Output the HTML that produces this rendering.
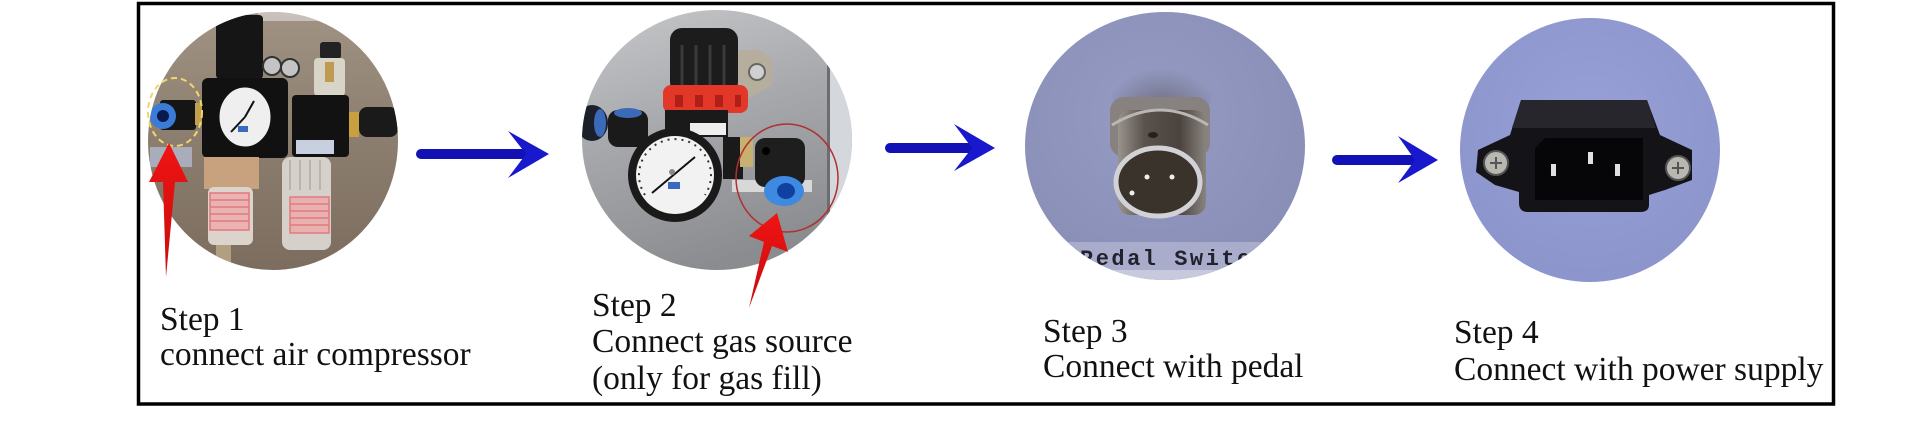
<!DOCTYPE html>
<html>
<head>
<meta charset="utf-8">
<style>
html,body{margin:0;padding:0;background:#fff;}
body{width:1920px;height:438px;overflow:hidden;}
svg{display:block;}
.t{font-family:"Liberation Serif","Times New Roman",serif;font-size:33.5px;fill:#111;}
</style>
</head>
<body>
<svg width="1920" height="438" viewBox="0 0 1920 438" xmlns="http://www.w3.org/2000/svg">
<defs>
  <clipPath id="c1"><ellipse cx="273" cy="141" rx="125" ry="129"/></clipPath>
  <clipPath id="c2"><ellipse cx="717" cy="140" rx="135" ry="130"/></clipPath>
  <clipPath id="c3"><ellipse cx="1165" cy="146" rx="140" ry="134"/></clipPath>
  <clipPath id="c4"><ellipse cx="1590" cy="150" rx="130" ry="132"/></clipPath>
  <linearGradient id="g1" x1="0" y1="0" x2="0" y2="1">
    <stop offset="0" stop-color="#a29585"/>
    <stop offset="0.5" stop-color="#8c7e6f"/>
    <stop offset="1" stop-color="#7a6b5d"/>
  </linearGradient>
  <linearGradient id="g2" x1="0" y1="0" x2="0.3" y2="1">
    <stop offset="0" stop-color="#cacacc"/>
    <stop offset="0.5" stop-color="#a6a8ac"/>
    <stop offset="1" stop-color="#8a8c90"/>
  </linearGradient>
  <radialGradient id="g3" cx="0.45" cy="0.4" r="0.7">
    <stop offset="0" stop-color="#959bc2"/>
    <stop offset="1" stop-color="#868cb4"/>
  </radialGradient>
  <radialGradient id="g4" cx="0.5" cy="0.4" r="0.7">
    <stop offset="0" stop-color="#98a1d7"/>
    <stop offset="1" stop-color="#8a93c9"/>
  </radialGradient>
  <linearGradient id="cyl" x1="0" y1="0" x2="1" y2="0">
    <stop offset="0" stop-color="#9a948e"/>
    <stop offset="0.3" stop-color="#5a524c"/>
    <stop offset="0.7" stop-color="#4a433e"/>
    <stop offset="1" stop-color="#8a8480"/>
  </linearGradient>
  <radialGradient id="shad" cx="0.5" cy="0.85" r="0.6">
    <stop offset="0" stop-color="#5e5a66" stop-opacity="1"/>
    <stop offset="1" stop-color="#6a6878" stop-opacity="0"/>
  </radialGradient>
  <linearGradient id="red" x1="0" y1="0" x2="0" y2="1">
    <stop offset="0" stop-color="#f01414"/>
    <stop offset="1" stop-color="#c80c0c"/>
  </linearGradient>
</defs>

<!-- frame -->
<rect x="138.5" y="3.5" width="1695" height="400.5" fill="none" stroke="#000" stroke-width="3.5"/>

<!-- ===== Photo 1 ===== -->
<g clip-path="url(#c1)">
  <rect x="140" y="0" width="270" height="280" fill="url(#g1)"/>
  <rect x="258" y="12" width="70" height="9" fill="#d8d6d2" opacity="0.7"/>
  <rect x="150" y="147" width="42" height="20" fill="#a9adbb"/>
  <rect x="160" y="100" width="36" height="30" rx="3" fill="#151515"/>
  <rect x="195" y="103" width="7" height="22" fill="#c0a050"/>
  <circle cx="163" cy="116" r="13" fill="#3b7bd8"/>
  <circle cx="163" cy="116" r="6" fill="#0a1a50"/>
  <rect x="216" y="15" width="47" height="64" rx="4" fill="#151515"/>
  <circle cx="272" cy="66" r="9" fill="#c4c4c4" stroke="#333" stroke-width="2"/>
  <circle cx="290" cy="68" r="9" fill="#c4c4c4" stroke="#333" stroke-width="2"/>
  <rect x="202" y="78" width="86" height="80" rx="6" fill="#111"/>
  <ellipse cx="245" cy="117" rx="27" ry="31" fill="#efefef" stroke="#111" stroke-width="3"/>
  <line x1="245" y1="117" x2="231" y2="132" stroke="#111" stroke-width="2"/>
  <line x1="245" y1="117" x2="254" y2="101" stroke="#111" stroke-width="2"/>
  <rect x="238" y="126" width="10" height="6" fill="#3a6ac0"/>
  <rect x="320" y="42" width="21" height="17" rx="3" fill="#222"/>
  <rect x="314" y="58" width="31" height="38" rx="4" fill="#d8d4c8"/>
  <rect x="325" y="62" width="9" height="20" fill="#c09a50"/>
  <rect x="292" y="95" width="57" height="62" rx="4" fill="#121212"/>
  <rect x="296" y="140" width="38" height="14" fill="#c8d0e0"/>
  <rect x="349" y="112" width="10" height="25" fill="#c9a040"/>
  <rect x="359" y="107" width="39" height="30" rx="8" fill="#1a1a1a"/>
  <rect x="204" y="157" width="55" height="32" fill="#c8a27e"/>
  <rect x="208" y="187" width="45" height="58" rx="6" fill="#dcd3cc"/>
  <g fill="none" stroke="#e07a7a" stroke-width="1.5">
    <rect x="210" y="193" width="39" height="37" fill="#eab2b2"/>
    <line x1="210" y1="200" x2="249" y2="200"/><line x1="210" y1="207" x2="249" y2="207"/>
    <line x1="210" y1="214" x2="249" y2="214"/><line x1="210" y1="221" x2="249" y2="221"/>
  </g>
  <rect x="216" y="245" width="15" height="24" fill="#b0a080"/>
  <rect x="282" y="157" width="49" height="93" rx="8" fill="#d6d0cb"/>
  <g stroke="#bbb3ad" stroke-width="2">
    <line x1="290" y1="160" x2="290" y2="190"/><line x1="300" y1="160" x2="300" y2="190"/>
    <line x1="310" y1="160" x2="310" y2="190"/><line x1="320" y1="160" x2="320" y2="190"/>
  </g>
  <g fill="none" stroke="#e07a7a" stroke-width="1.5">
    <rect x="290" y="197" width="39" height="36" fill="#e8b0b0"/>
    <line x1="290" y1="204" x2="329" y2="204"/><line x1="290" y1="211" x2="329" y2="211"/>
    <line x1="290" y1="218" x2="329" y2="218"/><line x1="290" y1="225" x2="329" y2="225"/>
  </g>
</g>
<ellipse cx="175" cy="112" rx="27" ry="34" fill="none" stroke="#f2d66a" stroke-width="2" stroke-dasharray="6 4"/>
<polygon points="169,143 188,182 175,182 166,277 163,182 149,182" fill="url(#red)"/>

<!-- arrow 1 -->
<line x1="421" y1="154" x2="526" y2="154" stroke="#1111b6" stroke-width="10" stroke-linecap="round"/>
<polygon points="549,154 508,131 526,154 508,178" fill="#1818cc"/>

<!-- ===== Photo 2 ===== -->
<g clip-path="url(#c2)">
  <rect x="580" y="0" width="280" height="280" fill="url(#g2)"/>
  <rect x="830" y="0" width="30" height="280" fill="#d4d8dc"/>
  <rect x="827" y="0" width="3" height="280" fill="#6a6e72"/>
  <ellipse cx="592" cy="123" rx="16" ry="18" fill="#1a1f2a"/>
  <ellipse cx="600" cy="123" rx="6" ry="14" fill="#3a6ab8"/>
  <rect x="608" y="110" width="40" height="37" rx="10" fill="#1a1a1a"/>
  <ellipse cx="628" cy="113" rx="14" ry="5" fill="#3a6ab8"/>
  <polygon points="673,50 760,50 772,60 772,85 745,100 673,100" fill="#b6ae9c"/>
  <circle cx="757" cy="72" r="8" fill="#d0d0d0" stroke="#666" stroke-width="2"/>
  <rect x="670" y="28" width="68" height="66" rx="12" fill="#1c1c1c"/>
  <g stroke="#3a3a3a" stroke-width="3">
    <line x1="682" y1="45" x2="682" y2="88"/><line x1="696" y1="45" x2="696" y2="88"/>
    <line x1="710" y1="45" x2="710" y2="88"/><line x1="724" y1="45" x2="724" y2="88"/>
  </g>
  <rect x="663" y="85" width="85" height="28" rx="8" fill="#e3372a"/>
  <g fill="#b01e18"><rect x="675" y="95" width="8" height="12"/><rect x="695" y="95" width="8" height="12"/><rect x="715" y="95" width="8" height="12"/><rect x="735" y="95" width="6" height="12"/></g>
  <rect x="665" y="110" width="63" height="27" fill="#1a1a1a"/>
  <rect x="690" y="123" width="36" height="12" fill="#eee"/>
  <rect x="723" y="137" width="20" height="42" fill="#1a1a1a"/>
  <rect x="740" y="137" width="13" height="30" fill="#c8b070"/>
  <rect x="732" y="180" width="80" height="12" fill="#d8d8d8"/>
  <rect x="755" y="138" width="50" height="49" rx="10" fill="#1e1e1e"/>
  <circle cx="766" cy="151" r="4" fill="#000"/>
  <ellipse cx="784" cy="191" rx="20" ry="15" fill="#3d8ae0"/>
  <ellipse cx="786" cy="191" rx="9" ry="8" fill="#1040a0"/>
  <circle cx="675" cy="175" r="47" fill="#1a1a1a"/>
  <circle cx="675" cy="175" r="39" fill="#f2f2f2"/>
  <path d="M645,195 A36,36 0 1 1 705,195" fill="none" stroke="#333" stroke-width="2" stroke-dasharray="2 5"/>
  <line x1="652" y1="193" x2="695" y2="157" stroke="#111" stroke-width="2"/>
  <circle cx="672" cy="172" r="3" fill="#888"/>
  <rect x="668" y="182" width="12" height="7" fill="#3a6ac0"/>
</g>
<ellipse cx="787" cy="178" rx="51" ry="54" fill="none" stroke="#b03030" stroke-width="1.5"/>
<polygon points="777,213 788,252 772,246 749,308 764,242 749,236" fill="url(#red)"/>

<!-- arrow 2 -->
<line x1="890" y1="148" x2="970" y2="148" stroke="#1111b6" stroke-width="10" stroke-linecap="round"/>
<polygon points="995,148 954,124 972,148 954,171" fill="#1818cc"/>

<!-- ===== Photo 3 ===== -->
<g clip-path="url(#c3)">
  <rect x="1020" y="0" width="290" height="290" fill="url(#g3)"/>
  <rect x="1020" y="242" width="290" height="30" fill="#a9adcb"/>
  <rect x="1020" y="270" width="290" height="20" fill="#c7cadd"/>
  <ellipse cx="1162" cy="90" rx="50" ry="45" fill="url(#shad)"/>
  <rect x="1110" y="97" width="100" height="60" rx="14" fill="#87817f"/>
  <rect x="1118" y="110" width="88" height="105" rx="12" fill="url(#cyl)"/>
  <path d="M1112,125 Q1160,95 1208,125" fill="none" stroke="#bab6b2" stroke-width="3"/>
  <ellipse cx="1153" cy="135" rx="5" ry="3" fill="#222"/>
  <ellipse cx="1158" cy="182" rx="42" ry="34" fill="#3a332c" stroke="#d2d2d6" stroke-width="5"/>
  <circle cx="1147" cy="177" r="2.5" fill="#eee"/>
  <circle cx="1172" cy="177" r="2.5" fill="#eee"/>
  <circle cx="1132" cy="193" r="2.5" fill="#eee"/>
  <text x="1080" y="265" font-family="Liberation Mono, monospace" font-weight="bold" font-size="22" letter-spacing="2.5" fill="#22222e">Pedal Switch</text>
</g>

<!-- arrow 3 -->
<line x1="1337" y1="160" x2="1414" y2="160" stroke="#1111b6" stroke-width="10" stroke-linecap="round"/>
<polygon points="1438,160 1398,136 1415,160 1398,183" fill="#1818cc"/>

<!-- ===== Photo 4 ===== -->
<g clip-path="url(#c4)">
  <rect x="1455" y="15" width="270" height="272" fill="url(#g4)"/>
  <path d="M1521,100 L1647,100 L1660,135 L1692,150 L1692,180 L1665,190 L1649,195 L1649,205 Q1649,212 1640,212 L1528,212 Q1519,212 1519,203 L1519,192 L1495,185 L1476,172 L1478,150 L1510,135 Z" fill="#141418"/>
  <path d="M1521,100 L1647,100 L1656,128 L1512,128 Z" fill="#26262c"/>
  <path d="M1545,138 L1643,138 L1643,200 L1535,200 L1535,148 Z" fill="#060608"/>
  <rect x="1551" y="164" width="5" height="12" fill="#e0e0e0"/>
  <rect x="1588" y="152" width="5" height="12" fill="#e0e0e0"/>
  <rect x="1615" y="164" width="5" height="12" fill="#e0e0e0"/>
  <circle cx="1496" cy="163" r="12" fill="#b8b8b0" stroke="#555" stroke-width="2"/>
  <circle cx="1678" cy="168" r="12" fill="#b8b8b0" stroke="#555" stroke-width="2"/>
  <g stroke="#555" stroke-width="2">
    <line x1="1490" y1="163" x2="1502" y2="163"/><line x1="1496" y1="157" x2="1496" y2="169"/>
    <line x1="1672" y1="168" x2="1684" y2="168"/><line x1="1678" y1="162" x2="1678" y2="174"/>
  </g>
</g>

<!-- ===== Labels ===== -->
<text class="t" x="160" y="330">Step 1</text>
<text class="t" x="160" y="365">connect air compressor</text>

<text class="t" x="592" y="316">Step 2</text>
<text class="t" x="592" y="352">Connect gas source</text>
<text class="t" x="592" y="389">(only for gas fill)</text>

<text class="t" x="1043" y="342">Step 3</text>
<text class="t" x="1043" y="377">Connect with pedal</text>

<text class="t" x="1454" y="343">Step 4</text>
<text class="t" x="1454" y="380">Connect with power supply</text>
</svg>
</body>
</html>
